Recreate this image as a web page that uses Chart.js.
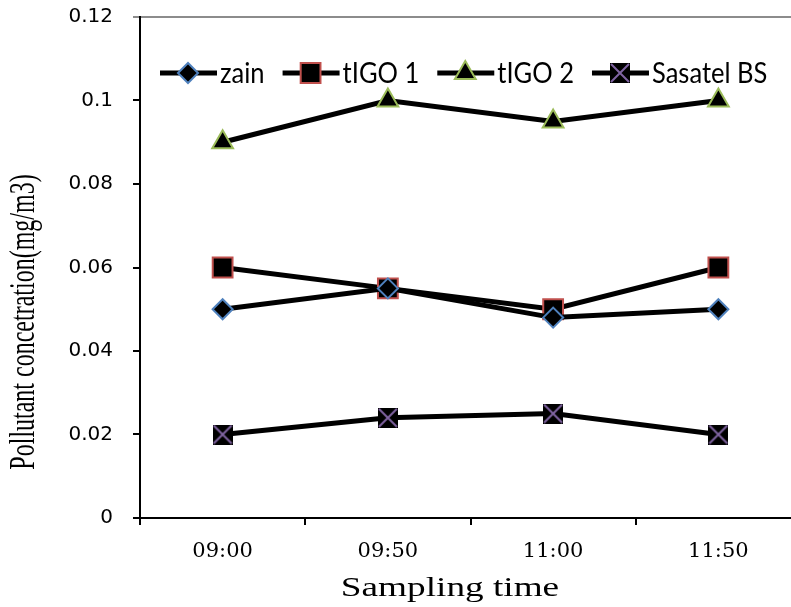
<!DOCTYPE html>
<html>
<head>
<meta charset="utf-8">
<script src="https://cdn.jsdelivr.net/npm/chart.js@4.4.1/dist/chart.umd.min.js"></script>
<style>
  html, body { margin: 0; padding: 0; background: #fff; overflow: hidden; }
  canvas { display: block; }
</style>
</head>
<body>
<canvas id="canvas" width="811" height="607"></canvas>
<script>
var categories = ['09:00', '09:50', '11:00', '11:50'];
var zain = [0.05, 0.055, 0.048, 0.05];
var tigo1 = [0.06, 0.055, 0.05, 0.06];
var tigo2 = [0.09, 0.1, 0.095, 0.1];
var sasatel = [0.02, 0.024, 0.025, 0.02];
var yTickLabels = ['0', '0.02', '0.04', '0.06', '0.08', '0.1', '0.12'];
var yTitle = 'Pollutant concetration(mg/m3)';
var xTitle = 'Sampling time';

// black square with a purple cross, used as marker for Sasatel BS
function crossMarker() {
    var c = document.createElement('canvas');
    c.width = 20; c.height = 20;
    var g = c.getContext('2d');
    g.fillStyle = '#000';
    g.fillRect(0, 0, 20, 20);
    g.strokeStyle = '#8064a2';
    g.lineWidth = 2;
    g.beginPath();
    g.moveTo(1, 1); g.lineTo(19, 19);
    g.moveTo(19, 1); g.lineTo(1, 19);
    g.stroke();
    return c;
}
var xMark = crossMarker();

function series(label, data, style, radius, edge) {
    return {
        label: label,
        data: data,
        borderColor: '#000',
        borderWidth: 5,
        backgroundColor: '#000',
        pointStyle: style,
        pointRadius: radius,
        pointHoverRadius: radius,
        pointBackgroundColor: '#000',
        pointBorderColor: edge,
        pointBorderWidth: 2,
        tension: 0,
        fill: false
    };
}

var insideLegend = {
    id: 'insideLegend',
    afterDraw: function (chart) {
        var ctx = chart.ctx;
        var x = 160, y = 73;
        var sx = 0.88;
        ctx.save();
        ctx.font = '29px Lato';
        ctx.textBaseline = 'middle';
        ctx.textAlign = 'left';
        chart.data.datasets.forEach(function (ds) {
            ctx.strokeStyle = '#000';
            ctx.lineWidth = 5;
            ctx.beginPath();
            ctx.moveTo(x, y);
            ctx.lineTo(x + 57, y);
            ctx.stroke();
            ctx.fillStyle = '#000';
            ctx.strokeStyle = ds.pointBorderColor;
            ctx.lineWidth = 2;
            Chart.helpers.drawPoint(ctx, {
                pointStyle: ds.pointStyle,
                radius: ds.pointRadius,
                borderWidth: 2,
                rotation: 0
            }, x + 28, y);
            ctx.fillStyle = '#000';
            ctx.save();
            ctx.translate(x + 60, y + 1);
            ctx.scale(sx, 1);
            ctx.fillText(ds.label, 0, 0);
            ctx.restore();
            x += 60 + ctx.measureText(ds.label).width * sx + 18;
        });

        // axis titles, drawn a little wider than the font like the original
        ctx.font = '28px "Liberation Serif"';
        ctx.textAlign = 'center';
        ctx.textBaseline = 'middle';
        ctx.save();
        ctx.translate(450, 589);
        ctx.scale(1.33, 1);
        ctx.fillText(xTitle, 0, 0);
        ctx.restore();

        ctx.font = '24px "Liberation Serif"';
        ctx.translate(25, 322);
        ctx.rotate(-Math.PI / 2);
        ctx.scale(1, 1.45);
        ctx.fillText(yTitle, 0, 0);
        ctx.restore();
    }
};

var ctx = document.getElementById('canvas').getContext('2d');
var myChart = new Chart(ctx, {
    type: 'line',
    data: {
        labels: categories,
        datasets: [
            series('zain', zain, 'rectRot', 10, '#4f81bd'),
            series('tIGO 1', tigo1, 'rect', 14, '#c0504d'),
            series('tIGO 2', tigo2, 'triangle', 12, '#9bbb59'),
            series('Sasatel BS', sasatel, xMark, 10, '#8064a2')
        ]
    },
    options: {
        responsive: false,
        animation: false,
        layout: {
            autoPadding: false,
            padding: { top: 17, right: 10, left: 0, bottom: 0 }
        },
        plugins: {
            legend: { display: false },
            tooltip: { enabled: false }
        },
        scales: {
            x: {
                offset: true,
                afterFit: function (scale) {
                    scale.height = 89;
                    scale.paddingLeft = 0;
                    scale.paddingRight = 0;
                },
                grid: {
                    display: true,
                    offset: true,
                    color: 'rgba(0,0,0,0)',
                    tickColor: '#000',
                    tickLength: 7,
                    lineWidth: 2
                },
                border: { display: true, color: '#000', width: 2 },
                ticks: {
                    color: '#000',
                    padding: 14,
                    maxRotation: 0,
                    font: { family: 'DejaVu Serif', size: 21 }
                }
            },
            y: {
                min: 0,
                max: 0.12,
                afterFit: function (scale) {
                    scale.width = 140;
                    scale.paddingTop = 0;
                    scale.paddingBottom = 0;
                },
                grid: {
                    display: true,
                    color: function (c) { return c.index === 6 ? '#8c8c8c' : 'rgba(0,0,0,0)'; },
                    tickColor: function (c) { return c.index === 6 ? '#8c8c8c' : '#000'; },
                    tickLength: 7,
                    lineWidth: 2
                },
                border: { display: true, color: '#000', width: 2 },
                ticks: {
                    stepSize: 0.02,
                    color: '#000',
                    padding: 20,
                    font: { family: 'DejaVu Sans', size: 20 },
                    callback: function (value, index) { return yTickLabels[index]; }
                }
            }
        }
    },
    plugins: [insideLegend]
});
</script>
</body>
</html>
